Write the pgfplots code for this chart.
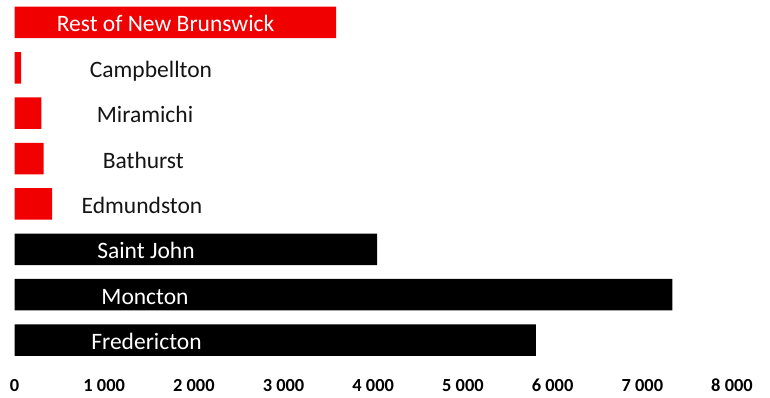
\documentclass[border=0pt]{standalone}
\usepackage{pgfplots}
\pgfplotsset{compat=1.18}
\usepackage{fontspec}
\setmainfont{Carlito}
\definecolor{barred}{RGB}{240,0,0}
\definecolor{txt}{RGB}{20,20,20}
\begin{document}
\begin{tikzpicture}
\useasboundingbox (0,0) rectangle (770bp,-398bp);
\begin{axis}[
  at={(14.5bp,-362.7bp)}, anchor=south west,
  scale only axis, width=717.5bp, height=362.9bp,
  xbar, bar width=31.5bp, bar shift=0pt,
  xmin=0, xmax=8000, ymin=-0.5, ymax=7.5,
  axis line style={draw=none},
  major tick length=0pt,
  ytick=\empty,
  xtick={0,1000,2000,3000,4000,5000,6000,7000,8000},
  xticklabels={0,1 000,2 000,3 000,4 000,5 000,6 000,7 000,8 000},
  xticklabel style={font=\fontsize{18.5}{19}\selectfont\bfseries, text=black, anchor=base, yshift=-29bp, inner sep=0pt, outer sep=0pt},
  clip=false,
]
\addplot[draw=none, fill=barred] coordinates {(3585,7) (73,6) (299,5) (326,4) (419,3)};
\addplot[draw=none, fill=black] coordinates {(4042,2) (7335,1) (5813,0)};
\begin{scope}[every node/.style={anchor=base, yshift=-9.5bp, font=\fontsize{23.6}{25}\selectfont}]
\node[text=white] at (axis cs:1684,7) {Rest of New Brunswick};
\node[text=txt] at (axis cs:1522,6) {Campbellton};
\node[text=txt] at (axis cs:1455,5) {Miramichi};
\node[text=txt] at (axis cs:1436,4) {Bathurst};
\node[text=txt] at (axis cs:1422,3) {Edmundston};
\node[text=white] at (axis cs:1466,2) {Saint John};
\node[text=white] at (axis cs:1455,1) {Moncton};
\node[text=white] at (axis cs:1472,0) {Fredericton};
\end{scope}
\end{axis}
\end{tikzpicture}
\end{document}
